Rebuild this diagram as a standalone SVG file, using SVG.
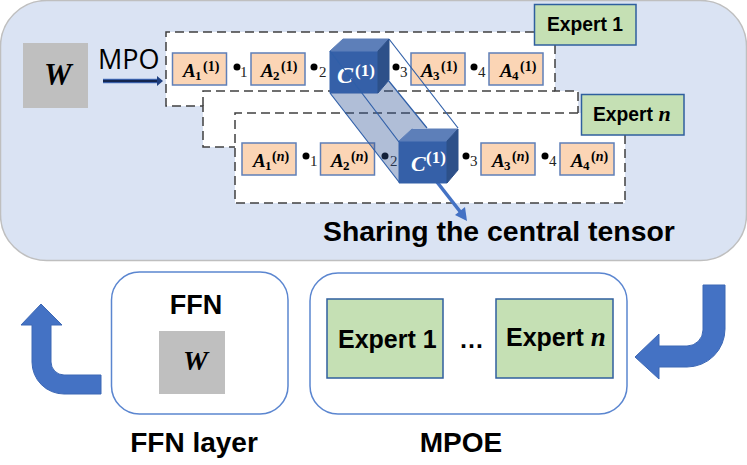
<svg xmlns="http://www.w3.org/2000/svg" width="747" height="465" viewBox="0 0 747 465">
<style>
  text { font-family: "Liberation Sans", Arial, sans-serif; fill: #000; }
  .b { font-weight: 700; }
  .m { font-family: "Liberation Serif", "Times New Roman", serif; font-weight: 700; font-style: italic; }
  .mu { font-family: "Liberation Serif", "Times New Roman", serif; font-weight: 700; }
  .big { font-size: 19px; }
  .sub { font-size: 13px; }
  .sup { font-size: 14px; }
  .a { fill: #fbd5b5; stroke: #5f7fb8; stroke-width: 1.5; }
  .e { fill: #c5e0b4; stroke: #2f5f9e; stroke-width: 1.5; }
  .frame { fill: #fff; stroke: #5b86d0; stroke-width: 1.5; }
  .gray { fill: #bfbfbf; }
  .dash { fill: none; stroke: #404040; stroke-width: 1.5; stroke-dasharray: 9 5; }
  .num { font-family: "Liberation Serif", serif; font-size: 15px; fill: #222; }
  .edge { fill: none; stroke: #2f5fa8; stroke-width: 1.2; }
  .turn { fill: #4472c4; stroke: #3d68b5; stroke-width: 1; }
  .white { fill: #fff; }
</style>
<defs>
  <symbol id="cube" overflow="visible">
    <path d="M0,42V0H48V42Z" fill="#3560a8" stroke="#3560a8"/>
    <path d="M0,0L13,-12H59L48,0Z" fill="#5d7fb9" stroke="#5d7fb9"/>
    <path d="M48,0L59,-12V29L48,42Z" fill="#2d5089" stroke="#2d5089"/>
  </symbol>
</defs>

<!-- upper panel -->
<rect id="panel" x="0.5" y="0.5" width="746" height="260" rx="46" fill="#dae3f3" stroke="#bfbfbf" stroke-width="1.5"/>

<g id="matrix-w">
  <rect class="gray" x="23" y="43" width="65" height="65"/>
  <text class="m" x="44" y="85" font-size="31">W</text>
</g>
<g id="mpo">
  <text x="98" y="69" font-size="27" style="font-family:'Open Sans','Liberation Sans',sans-serif">MPO</text>
</g>

<!-- white backing and dashed outlines of the expert tensor chains -->
<g id="expert-regions">
  <path fill="#fff" d="M166,32H555V91H578V113H625V203H235V147H203V106H166Z"/>
  <path class="dash" d="M534,32H166V106H203V147H235"/>
  <path class="dash" d="M555,45V91H578V113"/>
  <path class="dash" d="M203,106V91H555"/>
  <path class="dash" d="M578,113H235V203H625V135"/>
</g>

<g id="connectors">
  <path d="M103,81H158" stroke="#4472c4" stroke-width="4.5" fill="none"/>
  <path d="M103,81H158" stroke="#14264f" stroke-width="2.5" fill="none"/>
  <path d="M157,76L163,81L157,86Z" fill="#1f3f7f"/>
  <path d="M437,182L462,214" stroke="#4472c4" stroke-width="3.5" fill="none"/>
  <path d="M455,215L467,221L465,207Z" fill="#4472c4"/>
  <path class="turn" d="M41,304L62,325H51V362A13,13 0 0 0 64,375H101V394H64A32,32 0 0 1 32,362V325H21Z"/>
  <path class="turn" d="M703,285H725V329A38,38 0 0 1 687,367H659V379L635,357L659,334V346H687A16,16 0 0 0 703,330Z"/>
</g>

<g id="chain-1">
  <rect class="a" x="172.5" y="53" width="54" height="32"/>
  <text class="m big" x="183" y="77">A</text><text class="mu sub" x="195" y="80">1</text><text class="mu sup" x="203" y="71">(1)</text>
  <rect class="a" x="251" y="53" width="54" height="32"/>
  <text class="m big" x="261" y="77">A</text><text class="mu sub" x="273" y="80">2</text><text class="mu sup" x="281" y="71">(1)</text>
  <rect class="a" x="411" y="53" width="54" height="32"/>
  <text class="m big" x="421" y="77">A</text><text class="mu sub" x="433" y="80">3</text><text class="mu sup" x="441" y="71">(1)</text>
  <rect class="a" x="489" y="53" width="54" height="32"/>
  <text class="m big" x="500" y="77">A</text><text class="mu sub" x="512" y="80">4</text><text class="mu sup" x="520" y="71">(1)</text>
  <circle cx="237" cy="67" r="3.5"/><text class="num" x="240" y="77">1</text>
  <circle cx="314" cy="67" r="3.5"/><text class="num" x="319" y="77">2</text>
  <circle cx="396" cy="67" r="3.5"/><text class="num" x="400" y="77">3</text>
  <circle cx="474" cy="67" r="3.5"/><text class="num" x="478" y="77">4</text>
</g>

<g id="chain-n">
  <rect class="a" x="242" y="143" width="54" height="32"/>
  <text class="m big" x="253" y="167">A</text><text class="mu sub" x="265" y="170">1</text><text class="mu sup" x="272" y="161">(<tspan font-style="italic">n</tspan>)</text>
  <rect class="a" x="320.5" y="143" width="54" height="32"/>
  <text class="m big" x="331" y="167">A</text><text class="mu sub" x="343" y="170">2</text><text class="mu sup" x="351" y="161">(<tspan font-style="italic">n</tspan>)</text>
  <rect class="a" x="481" y="143" width="54" height="32"/>
  <text class="m big" x="492" y="167">A</text><text class="mu sub" x="504" y="170">3</text><text class="mu sup" x="512" y="161">(<tspan font-style="italic">n</tspan>)</text>
  <rect class="a" x="560" y="143" width="54" height="32"/>
  <text class="m big" x="571" y="167">A</text><text class="mu sub" x="583" y="170">4</text><text class="mu sup" x="591" y="161">(<tspan font-style="italic">n</tspan>)</text>
  <circle cx="306" cy="156" r="3.5"/><text class="num" x="310" y="166">1</text>
  <circle cx="385" cy="156" r="3.5"/><text class="num" x="390" y="166">2</text>
  <circle cx="466" cy="156" r="3.5"/><text class="num" x="470" y="166">3</text>
  <circle cx="545" cy="156" r="3.5"/><text class="num" x="549" y="166">4</text>
</g>

<!-- shared central tensor: two cubes joined by a translucent prism -->
<g id="central-tensor">
  <use href="#cube" x="330" y="51"/>
  <text class="m white" x="337" y="83" font-size="24" style="fill:#fff">C</text>
  <text class="mu" x="355" y="76" font-size="17" style="fill:#fff">(1)</text>
  <path d="M330,93L399,182V142L413,128H427L388,80L377,93Z" fill="#2f5597" fill-opacity="0.38"/>
  <use href="#cube" x="399" y="141"/>
  <text class="m" x="411" y="171" font-size="22" style="fill:#fff">C</text>
  <text class="mu" x="426" y="163" font-size="17" style="fill:#fff">(1)</text>
  <path class="edge" d="M330,51L399,142"/>
  <path class="edge" d="M330,93L399,182"/>
  <path class="edge" d="M388,80L427,128"/>
  <path class="edge" d="M389,39L458,128"/>
</g>

<g id="expert-1-tag">
  <rect class="e" x="534.5" y="4.5" width="101.5" height="40.5"/>
  <text class="b" x="547" y="31" font-size="19.3">Expert 1</text>
</g>
<g id="expert-n-tag">
  <rect class="e" x="581.5" y="94.5" width="102.5" height="40.5"/>
  <text class="b" x="593" y="121" font-size="19.3">Expert <tspan class="m" font-size="22">n</tspan></text>
</g>

<g id="sharing-label">
  <text class="b" x="323" y="241" font-size="28.4">Sharing the central tensor</text>
</g>

<g id="ffn">
  <rect class="frame" x="111.5" y="272" width="176.5" height="142" rx="28"/>
  <text class="b" x="196" y="314" font-size="27" text-anchor="middle">FFN</text>
  <rect class="gray" x="159" y="331" width="66" height="63"/>
  <text class="m" x="183" y="370" font-size="28">W</text>
  <text class="b" x="194" y="452" font-size="28" text-anchor="middle">FFN layer</text>
</g>

<g id="mpoe">
  <rect class="frame" x="310" y="273" width="317" height="141" rx="28"/>
  <rect class="e" x="327" y="299" width="116" height="79"/>
  <text class="b" x="338" y="348" font-size="25">Expert 1</text>
  <text class="b" x="459" y="348" font-size="25">…</text>
  <rect class="e" x="496" y="299" width="117" height="79"/>
  <text class="b" x="506" y="346" font-size="25">Expert <tspan class="m" font-size="27">n</tspan></text>
  <text class="b" x="461" y="452" font-size="28" text-anchor="middle">MPOE</text>
</g>
</svg>
